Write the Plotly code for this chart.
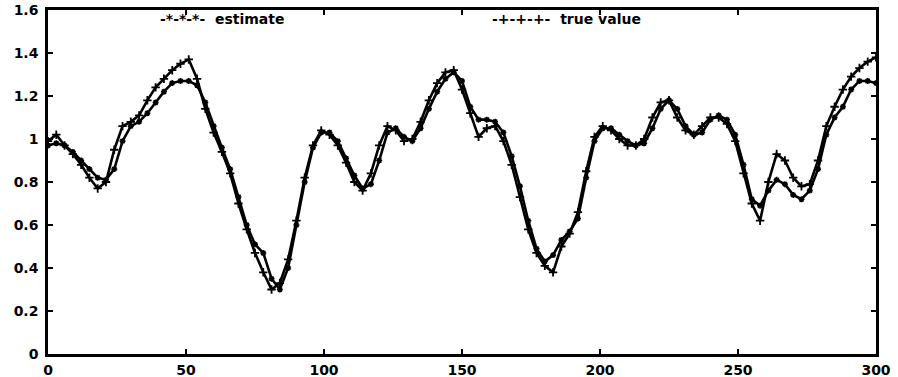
import numpy as np
import plotly.graph_objects as go

# sample index (0..300, every 3 steps)
x = np.arange(0, 301, 3)

true_value = [
    0.99, 1.02, 0.97, 0.93, 0.88, 0.82, 0.77, 0.80, 0.95, 1.06,
    1.08, 1.11, 1.18, 1.24, 1.28, 1.32, 1.35, 1.37, 1.28, 1.14,
    1.03, 0.94, 0.84, 0.70, 0.58, 0.47, 0.38, 0.30, 0.33, 0.44,
    0.62, 0.82, 0.97, 1.04, 1.02, 0.97, 0.89, 0.80, 0.76, 0.84,
    0.97, 1.06, 1.04, 0.99, 1.00, 1.08, 1.18, 1.26, 1.31, 1.32,
    1.23, 1.12, 1.01, 1.05, 1.06, 0.99, 0.88, 0.73, 0.58, 0.47,
    0.41, 0.38, 0.50, 0.56, 0.66, 0.85, 1.01, 1.06, 1.04, 1.00,
    0.97, 0.97, 1.00, 1.10, 1.17, 1.18, 1.10, 1.04, 1.02, 1.06,
    1.10, 1.10, 1.07, 0.99, 0.84, 0.70, 0.62, 0.80, 0.93, 0.90,
    0.82, 0.78, 0.79, 0.90, 1.06, 1.15, 1.23, 1.29, 1.33, 1.36,
    1.38,
]

estimate = [
    0.97, 0.98, 0.97, 0.94, 0.90, 0.86, 0.82, 0.81, 0.86, 0.99,
    1.06, 1.08, 1.12, 1.17, 1.22, 1.26, 1.27, 1.27, 1.25, 1.17,
    1.06, 0.96, 0.86, 0.73, 0.60, 0.51, 0.47, 0.35, 0.30, 0.40,
    0.60, 0.80, 0.96, 1.03, 1.03, 0.99, 0.91, 0.83, 0.77, 0.79,
    0.90, 1.03, 1.05, 1.01, 0.99, 1.05, 1.14, 1.22, 1.28, 1.31,
    1.27, 1.15, 1.09, 1.09, 1.08, 1.03, 0.92, 0.78, 0.62, 0.49,
    0.43, 0.46, 0.53, 0.57, 0.63, 0.82, 0.99, 1.05, 1.05, 1.02,
    0.99, 0.97, 0.98, 1.05, 1.14, 1.18, 1.14, 1.06, 1.02, 1.03,
    1.09, 1.11, 1.09, 1.02, 0.88, 0.72, 0.69, 0.76, 0.81, 0.79,
    0.74, 0.72, 0.76, 0.86, 1.02, 1.10, 1.15, 1.23, 1.27, 1.27,
    1.26,
]

x_ticks = [0, 50, 100, 150, 200, 250, 300]
y_ticks = [0, 0.2, 0.4, 0.6, 0.8, 1, 1.2, 1.4, 1.6]
y_tick_text = ["0", "0.2", "0.4", "0.6", "0.8", "1", "1.2", "1.4", "1.6"]

FONT = "DejaVu Sans"

fig = go.Figure()
fig.add_trace(go.Scatter(
    x=x, y=estimate, mode="lines+markers", name="estimate",
    line=dict(color="black", width=2.6),
    marker=dict(symbol="asterisk-open", size=5, color="black",
                line=dict(color="black", width=1.6)),
))
fig.add_trace(go.Scatter(
    x=x, y=true_value, mode="lines+markers", name="true value",
    line=dict(color="black", width=2.6),
    marker=dict(symbol="cross-thin-open", size=6, color="black",
                line=dict(color="black", width=1.8)),
))

axis_common = dict(
    showgrid=False, zeroline=False, showline=True, linecolor="black",
    linewidth=2.5, mirror="ticks", ticks="inside", ticklen=5,
    tickwidth=2, tickcolor="black", automargin=False,
    tickfont=dict(family=FONT, size=14, color="black", weight="bold"),
)

fig.update_xaxes(range=[0, 300], tickvals=x_ticks,
                 ticktext=[str(t) for t in x_ticks],
                 ticklabelstandoff=1, **axis_common)
fig.update_yaxes(range=[0, 1.6], tickvals=y_ticks, ticktext=y_tick_text,
                 ticklabelstandoff=4, **axis_common)

# legend written as text in the top band of the axes
legend_font = dict(family=FONT, size=14, color="black", weight="bold")
fig.add_annotation(x=40, y=1.56, xref="x", yref="y",
                   text="-*-*-*-  estimate",
                   showarrow=False, xanchor="left", yanchor="middle",
                   font=legend_font)
fig.add_annotation(x=160, y=1.56, xref="x", yref="y",
                   text="-+-+-+-  true value",
                   showarrow=False, xanchor="left", yanchor="middle",
                   font=legend_font)

fig.update_layout(
    width=898, height=377,
    margin=dict(l=48, r=22, t=10, b=23),
    paper_bgcolor="white", plot_bgcolor="white",
    showlegend=False,
)

fig.write_html("out.html")
